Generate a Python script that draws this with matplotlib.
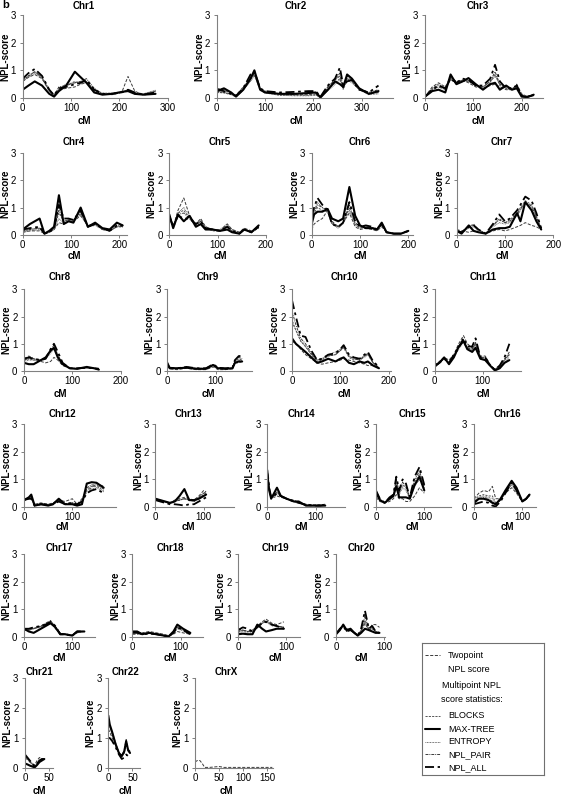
import matplotlib
matplotlib.use('Agg')
import matplotlib.pyplot as plt

plt.rcParams['font.family'] = ['Liberation Sans', 'DejaVu Sans']

W, H = 563, 796
PX_PER_CM = 0.483

# ---------------- data (NPL scores) ----------------
c1_x = [0, 12, 25, 40, 55, 65, 75, 90, 108, 120, 132, 148, 165, 185, 205, 218, 232, 250, 275]
c1_two = [0.6, 0.75, 0.85, 0.7, 0.25, 0.08, 0.3, 0.35, 0.4, 0.5, 0.55, 0.25, 0.15, 0.12, 0.2, 0.78, 0.25, 0.1, 0.25]
c1_blk = [0.65, 0.8, 0.95, 0.75, 0.25, 0.08, 0.3, 0.45, 0.6, 0.5, 0.6, 0.3, 0.15, 0.15, 0.2, 0.3, 0.15, 0.15, 0.25]
c1_max = [0.3, 0.45, 0.6, 0.45, 0.15, 0.05, 0.25, 0.45, 0.95, 0.75, 0.55, 0.2, 0.12, 0.15, 0.22, 0.25, 0.15, 0.12, 0.15]
c1_ent = [0.6, 0.75, 0.9, 0.7, 0.3, 0.1, 0.35, 0.5, 0.55, 0.6, 0.6, 0.3, 0.18, 0.18, 0.22, 0.28, 0.2, 0.15, 0.28]
c1_pair = [0.65, 0.8, 0.95, 0.75, 0.3, 0.1, 0.4, 0.45, 0.55, 0.6, 0.7, 0.35, 0.15, 0.15, 0.2, 0.3, 0.15, 0.12, 0.22]
c1_all = [0.7, 0.9, 1.05, 0.8, 0.3, 0.1, 0.35, 0.4, 0.5, 0.55, 0.65, 0.3, 0.15, 0.15, 0.2, 0.3, 0.2, 0.12, 0.2]

c2_x = [0, 15, 30, 40, 55, 70, 78, 90, 100, 130, 160, 190, 205, 215, 230, 245, 255, 262, 270, 280, 295, 315, 335]
c2_two = [0.35, 0.3, 0.15, 0.1, 0.4, 0.75, 0.9, 0.3, 0.25, 0.15, 0.12, 0.12, 0.15, 0.05, 0.4, 0.65, 0.8, 0.35, 0.8, 0.6, 0.3, 0.15, 0.2]
c2_blk = [0.2, 0.2, 0.12, 0.05, 0.3, 0.65, 0.85, 0.3, 0.2, 0.1, 0.1, 0.1, 0.12, 0.02, 0.3, 0.55, 0.7, 0.35, 0.7, 0.6, 0.3, 0.15, 0.2]
c2_max = [0.25, 0.35, 0.2, 0.05, 0.3, 0.7, 1.0, 0.3, 0.2, 0.15, 0.15, 0.18, 0.2, 0.02, 0.3, 0.6, 0.5, 0.4, 0.85, 0.7, 0.35, 0.15, 0.25]
c2_ent = [0.2, 0.18, 0.12, 0.05, 0.28, 0.6, 0.8, 0.28, 0.18, 0.1, 0.08, 0.08, 0.1, 0.02, 0.25, 0.5, 0.65, 0.3, 0.65, 0.55, 0.3, 0.12, 0.15]
c2_pair = [0.25, 0.2, 0.15, 0.08, 0.35, 0.7, 0.9, 0.3, 0.22, 0.15, 0.15, 0.18, 0.2, 0.05, 0.4, 0.65, 0.9, 0.4, 0.7, 0.65, 0.35, 0.2, 0.3]
c2_all = [0.3, 0.25, 0.15, 0.08, 0.35, 0.85, 0.95, 0.35, 0.25, 0.2, 0.22, 0.25, 0.25, 0.05, 0.45, 0.7, 1.1, 0.45, 0.6, 0.65, 0.3, 0.2, 0.45]

c3_x = [0, 15, 28, 42, 53, 65, 78, 90, 105, 120, 135, 145, 155, 168, 180, 190, 200, 212, 225]
c3_two = [0.05, 0.4, 0.55, 0.4, 0.75, 0.6, 0.65, 0.55, 0.4, 0.35, 0.45, 0.5, 0.4, 0.3, 0.3, 0.5, 0.15, 0.05, 0.1]
c3_blk = [0.05, 0.35, 0.5, 0.35, 0.7, 0.5, 0.6, 0.6, 0.45, 0.4, 0.6, 0.85, 0.45, 0.35, 0.3, 0.4, 0.1, 0.05, 0.1]
c3_max = [0.05, 0.25, 0.3, 0.2, 0.85, 0.5, 0.6, 0.72, 0.5, 0.3, 0.5, 0.55, 0.3, 0.45, 0.3, 0.35, 0.05, 0.03, 0.12]
c3_ent = [0.05, 0.35, 0.45, 0.3, 0.65, 0.55, 0.6, 0.65, 0.45, 0.4, 0.55, 0.8, 0.5, 0.35, 0.3, 0.45, 0.1, 0.05, 0.1]
c3_pair = [0.05, 0.3, 0.4, 0.3, 0.7, 0.55, 0.65, 0.65, 0.45, 0.4, 0.6, 0.95, 0.5, 0.4, 0.35, 0.4, 0.1, 0.05, 0.12]
c3_all = [0.05, 0.3, 0.45, 0.35, 0.7, 0.55, 0.7, 0.65, 0.45, 0.45, 0.7, 1.2, 0.6, 0.35, 0.35, 0.45, 0.1, 0.05, 0.1]

c4_x = [0, 15, 35, 45, 55, 65, 75, 85, 95, 105, 120, 135, 150, 165, 180, 195, 207]
c4_two = [0.1, 0.15, 0.15, 0.05, 0.1, 0.2, 0.45, 0.4, 0.5, 0.5, 0.7, 0.35, 0.4, 0.2, 0.15, 0.3, 0.35]
c4_blk = [0.15, 0.2, 0.25, 0.05, 0.1, 0.25, 0.8, 0.5, 0.55, 0.5, 0.8, 0.3, 0.4, 0.2, 0.15, 0.3, 0.3]
c4_max = [0.2, 0.4, 0.6, 0.05, 0.15, 0.3, 1.45, 0.4, 0.5, 0.45, 1.0, 0.3, 0.45, 0.25, 0.2, 0.45, 0.35]
c4_ent = [0.1, 0.15, 0.2, 0.05, 0.1, 0.2, 0.6, 0.45, 0.5, 0.5, 0.75, 0.3, 0.35, 0.2, 0.15, 0.3, 0.3]
c4_pair = [0.15, 0.2, 0.25, 0.05, 0.1, 0.25, 0.9, 0.5, 0.55, 0.55, 0.85, 0.3, 0.4, 0.25, 0.15, 0.35, 0.3]
c4_all = [0.2, 0.25, 0.3, 0.05, 0.1, 0.25, 1.1, 0.6, 0.6, 0.55, 0.9, 0.3, 0.4, 0.25, 0.15, 0.35, 0.35]

c5_x = [0, 8, 18, 30, 42, 55, 65, 75, 90, 105, 120, 130, 145, 155, 170, 185]
c5_two = [0.7, 0.3, 0.9, 1.35, 0.7, 0.4, 0.6, 0.3, 0.2, 0.15, 0.4, 0.2, 0.1, 0.25, 0.15, 0.3]
c5_blk = [0.7, 0.3, 0.8, 0.9, 0.6, 0.4, 0.5, 0.25, 0.15, 0.15, 0.35, 0.15, 0.05, 0.2, 0.1, 0.25]
c5_max = [0.75, 0.25, 0.75, 0.5, 0.7, 0.3, 0.4, 0.2, 0.2, 0.15, 0.2, 0.1, 0.05, 0.2, 0.1, 0.35]
c5_ent = [0.65, 0.3, 0.8, 1.0, 0.65, 0.4, 0.55, 0.3, 0.2, 0.2, 0.4, 0.2, 0.1, 0.2, 0.1, 0.25]
c5_pair = [0.7, 0.3, 0.75, 0.8, 0.6, 0.35, 0.5, 0.25, 0.2, 0.15, 0.3, 0.15, 0.05, 0.2, 0.12, 0.3]
c5_all = [0.7, 0.3, 0.7, 0.6, 0.6, 0.4, 0.5, 0.25, 0.2, 0.15, 0.3, 0.15, 0.05, 0.2, 0.1, 0.3]

c6_x = [0, 5, 12, 22, 33, 42, 55, 65, 78, 90, 100, 112, 125, 135, 145, 155, 170, 185, 200]
c6_two = [0.2, 0.4, 0.5, 0.6, 0.9, 0.5, 0.3, 0.45, 0.8, 0.3, 0.2, 0.25, 0.2, 0.15, 0.3, 0.1, 0.05, 0.05, 0.15]
c6_blk = [0.5, 0.8, 1.0, 0.9, 0.85, 0.4, 0.3, 0.45, 1.0, 0.4, 0.25, 0.3, 0.25, 0.2, 0.4, 0.1, 0.05, 0.05, 0.15]
c6_max = [0.4, 0.75, 0.85, 0.85, 0.95, 0.6, 0.5, 0.6, 1.75, 0.7, 0.35, 0.25, 0.25, 0.2, 0.45, 0.1, 0.05, 0.05, 0.15]
c6_ent = [0.6, 0.9, 1.2, 1.0, 0.85, 0.4, 0.25, 0.4, 0.9, 0.35, 0.25, 0.3, 0.25, 0.15, 0.35, 0.1, 0.05, 0.05, 0.12]
c6_pair = [0.55, 0.85, 1.1, 1.0, 0.9, 0.45, 0.3, 0.45, 1.1, 0.45, 0.3, 0.3, 0.28, 0.2, 0.4, 0.1, 0.05, 0.05, 0.15]
c6_all = [0.7, 1.0, 1.35, 1.1, 0.9, 0.4, 0.3, 0.45, 1.2, 0.5, 0.3, 0.35, 0.3, 0.2, 0.4, 0.1, 0.05, 0.05, 0.15]

c7_x = [0, 10, 25, 35, 45, 60, 75, 88, 100, 110, 125, 132, 142, 155, 165, 175]
c7_two = [0.2, 0.15, 0.1, 0.15, 0.1, 0.05, 0.15, 0.2, 0.15, 0.2, 0.3, 0.35, 0.45, 0.35, 0.3, 0.2]
c7_blk = [0.15, 0.1, 0.3, 0.4, 0.2, 0.05, 0.35, 0.6, 0.45, 0.55, 0.8, 1.0, 1.25, 1.1, 0.7, 0.25]
c7_max = [0.15, 0.05, 0.35, 0.15, 0.1, 0.05, 0.2, 0.25, 0.25, 0.3, 0.8, 0.5, 1.2, 0.9, 0.5, 0.2]
c7_ent = [0.15, 0.1, 0.25, 0.3, 0.15, 0.05, 0.3, 0.45, 0.4, 0.45, 0.7, 0.9, 1.15, 1.0, 0.6, 0.2]
c7_pair = [0.15, 0.1, 0.3, 0.35, 0.2, 0.05, 0.35, 0.55, 0.45, 0.5, 0.75, 0.95, 1.2, 1.05, 0.65, 0.22]
c7_all = [0.15, 0.1, 0.3, 0.35, 0.2, 0.05, 0.4, 0.75, 0.5, 0.6, 0.9, 1.1, 1.4, 1.25, 0.8, 0.25]

c8_x = [0, 10, 20, 35, 45, 55, 62, 70, 80, 95, 110, 130, 145, 155]
c8_two = [0.45, 0.55, 0.45, 0.35, 0.3, 0.35, 0.5, 0.4, 0.2, 0.1, 0.1, 0.12, 0.1, 0.1]
c8_blk = [0.4, 0.45, 0.4, 0.4, 0.45, 0.7, 0.85, 0.6, 0.25, 0.1, 0.08, 0.12, 0.1, 0.08]
c8_max = [0.3, 0.25, 0.25, 0.4, 0.5, 0.75, 0.85, 0.5, 0.25, 0.1, 0.08, 0.15, 0.1, 0.05]
c8_ent = [0.35, 0.4, 0.4, 0.4, 0.45, 0.65, 0.8, 0.55, 0.25, 0.1, 0.08, 0.12, 0.1, 0.08]
c8_pair = [0.4, 0.45, 0.45, 0.4, 0.5, 0.75, 0.95, 0.6, 0.25, 0.1, 0.08, 0.12, 0.1, 0.08]
c8_all = [0.45, 0.5, 0.45, 0.4, 0.45, 0.8, 1.0, 0.7, 0.3, 0.1, 0.1, 0.12, 0.1, 0.08]

c9_x = [0, 5, 20, 40, 60, 80, 95, 105, 120, 135, 140, 148, 155]
c9_two = [0.2, 0.08, 0.05, 0.1, 0.05, 0.05, 0.15, 0.05, 0.05, 0.08, 0.3, 0.3, 0.35]
c9_blk = [0.28, 0.12, 0.1, 0.14, 0.08, 0.1, 0.22, 0.1, 0.08, 0.1, 0.35, 0.45, 0.4]
c9_max = [0.3, 0.1, 0.1, 0.12, 0.08, 0.08, 0.22, 0.1, 0.08, 0.1, 0.3, 0.35, 0.35]
c9_ent = [0.25, 0.1, 0.1, 0.13, 0.08, 0.08, 0.2, 0.1, 0.08, 0.1, 0.35, 0.4, 0.38]
c9_pair = [0.28, 0.12, 0.1, 0.15, 0.1, 0.1, 0.24, 0.12, 0.1, 0.12, 0.38, 0.5, 0.45]
c9_all = [0.25, 0.12, 0.1, 0.15, 0.1, 0.1, 0.25, 0.12, 0.1, 0.12, 0.4, 0.55, 0.55]

c10_x = [0, 8, 18, 28, 40, 52, 62, 75, 90, 100, 107, 118, 128, 140, 150, 157, 168, 180]
c10_two = [1.1, 1.0, 0.8, 0.6, 0.45, 0.3, 0.25, 0.3, 0.35, 0.4, 0.45, 0.4, 0.35, 0.3, 0.25, 0.2, 0.2, 0.15]
c10_blk = [1.8, 1.5, 1.1, 0.9, 0.6, 0.35, 0.4, 0.55, 0.6, 0.75, 0.85, 0.5, 0.4, 0.45, 0.55, 0.6, 0.3, 0.12]
c10_max = [1.2, 1.0, 0.85, 0.7, 0.5, 0.3, 0.35, 0.45, 0.35, 0.45, 0.5, 0.3, 0.25, 0.35, 0.3, 0.35, 0.2, 0.1]
c10_ent = [1.9, 1.5, 1.1, 0.9, 0.6, 0.4, 0.45, 0.6, 0.7, 0.8, 0.9, 0.55, 0.45, 0.4, 0.5, 0.6, 0.3, 0.12]
c10_pair = [2.2, 1.7, 1.2, 1.0, 0.65, 0.4, 0.45, 0.55, 0.6, 0.75, 0.9, 0.55, 0.45, 0.4, 0.55, 0.65, 0.3, 0.12]
c10_all = [2.6, 2.0, 1.3, 1.25, 0.75, 0.4, 0.45, 0.6, 0.65, 0.8, 0.95, 0.6, 0.5, 0.45, 0.6, 0.7, 0.35, 0.15]

c11_x = [0, 10, 20, 30, 40, 50, 60, 68, 78, 85, 95, 105, 115, 125, 135, 145, 155]
c11_two = [0.2, 0.35, 0.5, 0.4, 0.6, 1.0, 1.3, 1.0, 0.85, 1.0, 0.55, 0.55, 0.25, 0.05, 0.2, 0.45, 0.6]
c11_blk = [0.15, 0.3, 0.45, 0.3, 0.55, 0.85, 1.15, 0.85, 0.8, 1.0, 0.5, 0.5, 0.2, 0.05, 0.15, 0.4, 0.6]
c11_max = [0.2, 0.3, 0.5, 0.25, 0.5, 0.9, 1.1, 0.8, 0.7, 0.85, 0.45, 0.4, 0.2, 0.02, 0.1, 0.3, 0.4]
c11_ent = [0.15, 0.3, 0.45, 0.3, 0.5, 0.8, 1.05, 0.8, 0.75, 0.95, 0.45, 0.45, 0.2, 0.05, 0.15, 0.35, 0.5]
c11_pair = [0.15, 0.3, 0.45, 0.3, 0.55, 0.85, 1.1, 0.85, 0.8, 1.05, 0.5, 0.5, 0.2, 0.05, 0.15, 0.4, 0.7]
c11_all = [0.15, 0.3, 0.45, 0.3, 0.6, 0.85, 1.2, 0.9, 0.9, 1.2, 0.5, 0.5, 0.2, 0.05, 0.2, 0.5, 1.0]

c12_x = [0, 10, 15, 22, 35, 50, 60, 72, 85, 100, 110, 120, 130, 140, 150, 165]
c12_two = [0.3, 0.3, 0.3, 0.1, 0.15, 0.1, 0.15, 0.25, 0.2, 0.3, 0.1, 0.3, 0.6, 0.7, 0.85, 0.75]
c12_blk = [0.25, 0.3, 0.35, 0.05, 0.12, 0.08, 0.1, 0.25, 0.12, 0.15, 0.08, 0.2, 0.65, 0.75, 0.75, 0.6]
c12_max = [0.25, 0.35, 0.45, 0.05, 0.1, 0.05, 0.1, 0.3, 0.1, 0.1, 0.05, 0.1, 0.85, 0.9, 0.88, 0.7]
c12_ent = [0.25, 0.3, 0.3, 0.05, 0.1, 0.08, 0.1, 0.2, 0.1, 0.15, 0.08, 0.15, 0.55, 0.65, 0.7, 0.55]
c12_pair = [0.25, 0.3, 0.35, 0.05, 0.1, 0.08, 0.1, 0.25, 0.12, 0.15, 0.1, 0.2, 0.7, 0.8, 0.8, 0.65]
c12_all = [0.25, 0.3, 0.3, 0.05, 0.1, 0.08, 0.1, 0.2, 0.1, 0.15, 0.1, 0.2, 0.5, 0.6, 0.65, 0.5]

c13_x = [0, 10, 20, 30, 40, 50, 60, 70, 80, 90, 100, 105]
c13_two = [0.3, 0.25, 0.2, 0.15, 0.25, 0.3, 0.35, 0.3, 0.25, 0.4, 0.6, 0.55]
c13_blk = [0.25, 0.2, 0.18, 0.12, 0.2, 0.25, 0.3, 0.25, 0.2, 0.3, 0.45, 0.5]
c13_max = [0.3, 0.25, 0.2, 0.15, 0.2, 0.4, 0.65, 0.25, 0.25, 0.3, 0.4, 0.45]
c13_ent = [0.25, 0.22, 0.18, 0.12, 0.22, 0.25, 0.3, 0.25, 0.22, 0.35, 0.5, 0.5]
c13_pair = [0.28, 0.22, 0.2, 0.12, 0.2, 0.25, 0.3, 0.25, 0.2, 0.35, 0.5, 0.55]
c13_all = [0.25, 0.2, 0.15, 0.1, 0.1, 0.08, 0.05, 0.1, 0.1, 0.2, 0.3, 0.35]

c14_x = [0, 4, 8, 14, 20, 28, 40, 55, 65, 80, 95, 110, 120]
c14_two = [1.0, 0.6, 0.4, 0.35, 0.4, 0.35, 0.3, 0.25, 0.15, 0.1, 0.08, 0.08, 0.1]
c14_blk = [1.2, 0.6, 0.35, 0.4, 0.55, 0.4, 0.3, 0.2, 0.15, 0.08, 0.05, 0.05, 0.08]
c14_max = [1.2, 0.6, 0.3, 0.5, 0.7, 0.4, 0.3, 0.2, 0.2, 0.05, 0.05, 0.05, 0.05]
c14_ent = [1.1, 0.55, 0.35, 0.4, 0.5, 0.38, 0.3, 0.2, 0.15, 0.08, 0.05, 0.06, 0.08]
c14_pair = [1.25, 0.65, 0.35, 0.42, 0.55, 0.4, 0.3, 0.2, 0.15, 0.08, 0.05, 0.05, 0.08]
c14_all = [1.35, 0.7, 0.35, 0.4, 0.5, 0.4, 0.3, 0.2, 0.15, 0.08, 0.05, 0.05, 0.08]

c15_x = [0, 8, 18, 28, 36, 42, 48, 55, 62, 70, 80, 90, 100]
c15_two = [0.35, 0.2, 0.15, 0.2, 0.3, 0.45, 0.3, 0.3, 0.2, 0.2, 0.4, 0.7, 0.5]
c15_blk = [0.5, 0.25, 0.15, 0.3, 0.4, 0.9, 0.5, 0.8, 0.7, 0.3, 0.9, 1.2, 0.7]
c15_max = [0.55, 0.25, 0.15, 0.3, 0.4, 0.75, 0.35, 0.35, 0.35, 0.3, 0.8, 1.1, 0.6]
c15_ent = [0.45, 0.25, 0.15, 0.25, 0.35, 0.8, 0.45, 0.7, 0.6, 0.3, 0.75, 1.0, 0.65]
c15_pair = [0.55, 0.3, 0.15, 0.3, 0.45, 1.0, 0.55, 0.9, 0.75, 0.35, 1.0, 1.3, 0.75]
c15_all = [0.6, 0.3, 0.15, 0.35, 0.45, 1.1, 0.6, 1.0, 0.85, 0.35, 1.1, 1.45, 0.8]

c16_x = [0, 10, 20, 30, 38, 45, 55, 65, 78, 88, 100, 108, 115]
c16_two = [0.3, 0.5, 0.6, 0.55, 0.75, 0.3, 0.3, 0.5, 0.7, 0.5, 0.2, 0.3, 0.4]
c16_blk = [0.25, 0.4, 0.45, 0.4, 0.4, 0.15, 0.25, 0.55, 0.85, 0.6, 0.2, 0.3, 0.45]
c16_max = [0.15, 0.3, 0.3, 0.25, 0.15, 0.1, 0.3, 0.6, 0.95, 0.7, 0.2, 0.3, 0.45]
c16_ent = [0.2, 0.35, 0.4, 0.35, 0.3, 0.1, 0.25, 0.5, 0.8, 0.55, 0.2, 0.28, 0.42]
c16_pair = [0.2, 0.3, 0.35, 0.3, 0.2, 0.08, 0.25, 0.55, 0.9, 0.65, 0.2, 0.3, 0.45]
c16_all = [0.1, 0.15, 0.2, 0.15, 0.05, 0.02, 0.2, 0.5, 0.9, 0.6, 0.2, 0.3, 0.45]

c17_x = [0, 10, 20, 35, 45, 55, 65, 75, 85, 100, 110, 125]
c17_two = [0.25, 0.25, 0.3, 0.4, 0.5, 0.6, 0.3, 0.15, 0.1, 0.08, 0.15, 0.22]
c17_blk = [0.28, 0.28, 0.3, 0.38, 0.45, 0.55, 0.35, 0.12, 0.1, 0.05, 0.18, 0.2]
c17_max = [0.3, 0.2, 0.15, 0.3, 0.4, 0.5, 0.35, 0.1, 0.1, 0.05, 0.2, 0.2]
c17_ent = [0.25, 0.25, 0.3, 0.35, 0.45, 0.5, 0.35, 0.12, 0.1, 0.05, 0.18, 0.2]
c17_pair = [0.3, 0.3, 0.32, 0.4, 0.48, 0.58, 0.38, 0.1, 0.1, 0.05, 0.2, 0.2]
c17_all = [0.3, 0.3, 0.35, 0.4, 0.45, 0.55, 0.4, 0.1, 0.1, 0.05, 0.2, 0.2]

c18_x = [0, 10, 20, 35, 50, 65, 75, 85, 93, 105, 120]
c18_two = [0.1, 0.1, 0.15, 0.2, 0.15, 0.1, 0.05, 0.1, 0.2, 0.15, 0.1]
c18_blk = [0.15, 0.2, 0.12, 0.15, 0.12, 0.06, 0.02, 0.15, 0.35, 0.25, 0.12]
c18_max = [0.2, 0.2, 0.1, 0.15, 0.1, 0.05, 0.02, 0.2, 0.45, 0.3, 0.15]
c18_ent = [0.15, 0.18, 0.12, 0.15, 0.12, 0.06, 0.02, 0.15, 0.3, 0.22, 0.1]
c18_pair = [0.18, 0.2, 0.12, 0.15, 0.12, 0.06, 0.02, 0.18, 0.4, 0.28, 0.12]
c18_all = [0.15, 0.15, 0.1, 0.12, 0.1, 0.05, 0.02, 0.15, 0.35, 0.25, 0.1]

c19_x = [0, 10, 20, 30, 40, 50, 58, 70, 80, 95]
c19_two = [0.3, 0.25, 0.2, 0.25, 0.4, 0.55, 0.65, 0.5, 0.45, 0.55]
c19_blk = [0.2, 0.25, 0.2, 0.2, 0.4, 0.5, 0.6, 0.45, 0.4, 0.35]
c19_max = [0.1, 0.12, 0.1, 0.1, 0.45, 0.3, 0.2, 0.25, 0.3, 0.3]
c19_ent = [0.15, 0.2, 0.15, 0.15, 0.4, 0.5, 0.55, 0.4, 0.4, 0.35]
c19_pair = [0.2, 0.25, 0.2, 0.2, 0.4, 0.5, 0.58, 0.45, 0.4, 0.35]
c19_all = [0.25, 0.35, 0.3, 0.2, 0.35, 0.5, 0.55, 0.45, 0.4, 0.3]

c20_x = [0, 8, 15, 22, 30, 38, 45, 52, 60, 68, 75, 82, 90]
c20_two = [0.15, 0.3, 0.4, 0.3, 0.25, 0.15, 0.1, 0.2, 0.5, 0.25, 0.45, 0.45, 0.35]
c20_blk = [0.1, 0.28, 0.42, 0.22, 0.28, 0.15, 0.05, 0.2, 0.6, 0.25, 0.3, 0.2, 0.15]
c20_max = [0.1, 0.25, 0.45, 0.25, 0.3, 0.15, 0.05, 0.15, 0.3, 0.25, 0.2, 0.15, 0.15]
c20_ent = [0.1, 0.25, 0.4, 0.22, 0.28, 0.15, 0.05, 0.2, 0.5, 0.25, 0.3, 0.2, 0.15]
c20_pair = [0.1, 0.28, 0.42, 0.2, 0.26, 0.15, 0.05, 0.25, 0.75, 0.28, 0.35, 0.2, 0.15]
c20_all = [0.1, 0.3, 0.4, 0.2, 0.25, 0.15, 0.05, 0.3, 0.95, 0.3, 0.4, 0.2, 0.15]

c21_x = [0, 5, 10, 15, 20, 25, 30, 35, 40]
c21_two = [0.3, 0.3, 0.2, 0.15, 0.1, 0.25, 0.35, 0.3, 0.28]
c21_blk = [0.35, 0.3, 0.2, 0.12, 0.05, 0.15, 0.25, 0.3, 0.3]
c21_max = [0.15, 0.12, 0.08, 0.05, 0.02, 0.1, 0.2, 0.25, 0.3]
c21_ent = [0.4, 0.3, 0.25, 0.15, 0.05, 0.15, 0.28, 0.3, 0.3]
c21_pair = [0.4, 0.32, 0.22, 0.12, 0.05, 0.12, 0.25, 0.28, 0.3]
c21_all = [0.45, 0.35, 0.25, 0.15, 0.05, 0.15, 0.25, 0.3, 0.3]

c22_x = [0, 3, 8, 15, 22, 28, 33, 37, 41, 45]
c22_two = [1.3, 1.2, 1.0, 0.75, 0.5, 0.4, 0.6, 0.95, 0.55, 0.6]
c22_blk = [1.6, 1.4, 1.2, 0.85, 0.5, 0.4, 0.55, 0.85, 0.6, 0.55]
c22_max = [1.75, 1.45, 1.2, 0.8, 0.5, 0.4, 0.55, 0.9, 0.6, 0.5]
c22_ent = [1.5, 1.35, 1.1, 0.8, 0.5, 0.4, 0.5, 0.8, 0.55, 0.5]
c22_pair = [1.55, 1.4, 1.15, 0.8, 0.5, 0.38, 0.5, 0.85, 0.6, 0.55]
c22_all = [1.0, 1.0, 0.9, 0.7, 0.45, 0.3, 0.35, 0.45, 0.4, 0.45]

cX_x = [0, 5, 10, 15, 20, 30, 50, 60, 80, 100, 120, 140, 160]
cX_two = [0.2, 0.25, 0.25, 0.15, 0.02, 0.02, 0.05, 0.02, 0.02, 0.02, 0.02, 0.02, 0.02]

chrom_names = ["Chr1", "Chr2", "Chr3", "Chr4", "Chr5", "Chr6", "Chr7", "Chr8", "Chr9",
               "Chr10", "Chr11", "Chr12", "Chr13", "Chr14", "Chr15", "Chr16", "Chr17",
               "Chr18", "Chr19", "Chr20", "Chr21", "Chr22", "ChrX"]
series_names = ["Twopoint", "BLOCKS", "MAX-TREE", "ENTROPY", "NPL_PAIR", "NPL_ALL"]

chrom_data = [
    (c1_x, [c1_two, c1_blk, c1_max, c1_ent, c1_pair, c1_all]),
    (c2_x, [c2_two, c2_blk, c2_max, c2_ent, c2_pair, c2_all]),
    (c3_x, [c3_two, c3_blk, c3_max, c3_ent, c3_pair, c3_all]),
    (c4_x, [c4_two, c4_blk, c4_max, c4_ent, c4_pair, c4_all]),
    (c5_x, [c5_two, c5_blk, c5_max, c5_ent, c5_pair, c5_all]),
    (c6_x, [c6_two, c6_blk, c6_max, c6_ent, c6_pair, c6_all]),
    (c7_x, [c7_two, c7_blk, c7_max, c7_ent, c7_pair, c7_all]),
    (c8_x, [c8_two, c8_blk, c8_max, c8_ent, c8_pair, c8_all]),
    (c9_x, [c9_two, c9_blk, c9_max, c9_ent, c9_pair, c9_all]),
    (c10_x, [c10_two, c10_blk, c10_max, c10_ent, c10_pair, c10_all]),
    (c11_x, [c11_two, c11_blk, c11_max, c11_ent, c11_pair, c11_all]),
    (c12_x, [c12_two, c12_blk, c12_max, c12_ent, c12_pair, c12_all]),
    (c13_x, [c13_two, c13_blk, c13_max, c13_ent, c13_pair, c13_all]),
    (c14_x, [c14_two, c14_blk, c14_max, c14_ent, c14_pair, c14_all]),
    (c15_x, [c15_two, c15_blk, c15_max, c15_ent, c15_pair, c15_all]),
    (c16_x, [c16_two, c16_blk, c16_max, c16_ent, c16_pair, c16_all]),
    (c17_x, [c17_two, c17_blk, c17_max, c17_ent, c17_pair, c17_all]),
    (c18_x, [c18_two, c18_blk, c18_max, c18_ent, c18_pair, c18_all]),
    (c19_x, [c19_two, c19_blk, c19_max, c19_ent, c19_pair, c19_all]),
    (c20_x, [c20_two, c20_blk, c20_max, c20_ent, c20_pair, c20_all]),
    (c21_x, [c21_two, c21_blk, c21_max, c21_ent, c21_pair, c21_all]),
    (c22_x, [c22_two, c22_blk, c22_max, c22_ent, c22_pair, c22_all]),
    (cX_x, [cX_two, None, None, None, None, None]),
]

# ---------------- layout (pixels) ----------------
# rows: (top of axes, bottom of axes, title offset above, cM offset below)
rows = [(15, 98, 9.3, 23.5), (152.7, 235, 11, 21), (289.3, 371, 12.6, 23),
        (424.3, 507, 10, 20.5), (554.3, 637, 6, 21), (678, 768, 6.3, 23.5)]
# (row, left px, xmax cM, label centre px, tick step)
panel_layout = [
    (0, 22.7, 300, 84, 100), (0, 216.7, 365, 296, 100), (0, 425, 245, 478, 100),
    (1, 22.7, 215, 74, 100), (1, 169.3, 200, 220, 100), (1, 311.7, 210, 360, 100), (1, 456.7, 200, 502, 100),
    (2, 24, 200, 60, 100), (2, 167.3, 175, 208, 100), (2, 292, 205, 344, 100), (2, 434.5, 180, 483, 100),
    (3, 24, 190, 62, 100), (3, 155.4, 162, 188, 100), (3, 267.3, 161, 301, 100), (3, 376, 156, 412, 100),
    (3, 474, 128, 507, 100),
    (4, 24, 147, 59, 100), (4, 132.4, 146, 170, 100), (4, 238, 129, 275, 100), (4, 336, 101, 361.5, 100),
    (5, 25, 58, 39, 50), (5, 108.3, 65, 125, 50), (5, 195, 161, 226.7, 50),
]

styles = [
    dict(color='#3a3a3a', lw=0.7, dashes=(3.2, 1.6)),          # Twopoint
    dict(color='#555555', lw=0.7, dashes=(2.2, 1.2)),          # BLOCKS
    dict(color='black', lw=1.5, solid_capstyle='round'),       # MAX-TREE
    dict(color='#555555', lw=0.7, dashes=(0.8, 0.8)),          # ENTROPY
    dict(color='#3a3a3a', lw=0.7, dashes=(3, 1, 1, 1)),        # NPL_PAIR
    dict(color='black', lw=1.3, dashes=(5, 2, 1.5, 2)),        # NPL_ALL
]
draw_order = [0, 1, 3, 4, 5, 2]

AXC = '#808080'
FS = 7

fig = plt.figure(figsize=(W / 100, H / 100), dpi=100)

for name, (xs, ser), (ri, left, xmax, lx, step) in zip(chrom_names, chrom_data, panel_layout):
    top, bot, toff, coff = rows[ri]
    width = xmax * PX_PER_CM
    ax = fig.add_axes([left / W, 1 - bot / H, width / W, (bot - top) / H])
    for k in draw_order:
        ys = ser[k]
        if ys is None:
            continue
        ax.plot(xs, ys, **styles[k])
    ax.set_xlim(0, xmax)
    ax.set_ylim(0, 3)
    ax.set_yticks([0, 1, 2, 3])
    ticks = list(range(0, int(xmax) + 1, step))
    ax.set_xticks(ticks)
    for s in ['top', 'right']:
        ax.spines[s].set_visible(False)
    for s in ['left', 'bottom']:
        ax.spines[s].set_color(AXC)
        ax.spines[s].set_linewidth(0.8)
    ax.tick_params(axis='both', colors=AXC, length=2.2, width=0.7, labelsize=FS,
                   labelcolor='black', pad=1.5)
    ax.tick_params(axis='y', pad=2.5)
    ax.patch.set_visible(False)
    fig.text(lx / W, 1 - (top - toff) / H, name, ha='center', va='center',
             fontsize=FS, fontweight='bold')
    fig.text(lx / W, 1 - (bot + coff) / H, 'cM', ha='center', va='center',
             fontsize=FS, fontweight='bold')
    fig.text((left - 17.5) / W, 1 - ((top + bot) / 2) / H, 'NPL-score', ha='center',
             va='center', rotation=90, fontsize=FS, fontweight='bold')

fig.text(2 / W, 1 - 5.5 / H, 'b', ha='left', va='center', fontsize=8, fontweight='bold')

# ---------------- legend box ----------------
lb_left, lb_top, lb_right, lb_bot = 421.7, 643.3, 544.3, 775
lax = fig.add_axes([lb_left / W, 1 - lb_bot / H, (lb_right - lb_left) / W, (lb_bot - lb_top) / H])
lax.set_xlim(0, lb_right - lb_left)
lax.set_ylim(lb_bot - lb_top, 0)
lax.set_xticks([])
lax.set_yticks([])
for s in lax.spines.values():
    s.set_color('#707070')
    s.set_linewidth(0.8)
LFS = 6.5
x0, x1, xt = 3, 18, 26.5
lax.plot([x0, x1], [11.7, 11.7], **styles[0])
lax.text(xt, 11.7, 'Twopoint', fontsize=LFS, va='center', ha='left')
lax.text(xt, 26.7, 'NPL score', fontsize=LFS, va='center', ha='left')
lax.text(50, 41.7, 'Multipoint NPL', fontsize=LFS, va='center', ha='center')
lax.text(50, 56, 'score statistics:', fontsize=LFS, va='center', ha='center')
for k, yy in zip([1, 2, 3, 4, 5], [72.4, 86, 98.4, 111, 124]):
    lax.plot([x0, x1], [yy, yy], **styles[k])
    lax.text(xt, yy, series_names[k], fontsize=LFS, va='center', ha='left')

fig.savefig('out.png', dpi=100)
